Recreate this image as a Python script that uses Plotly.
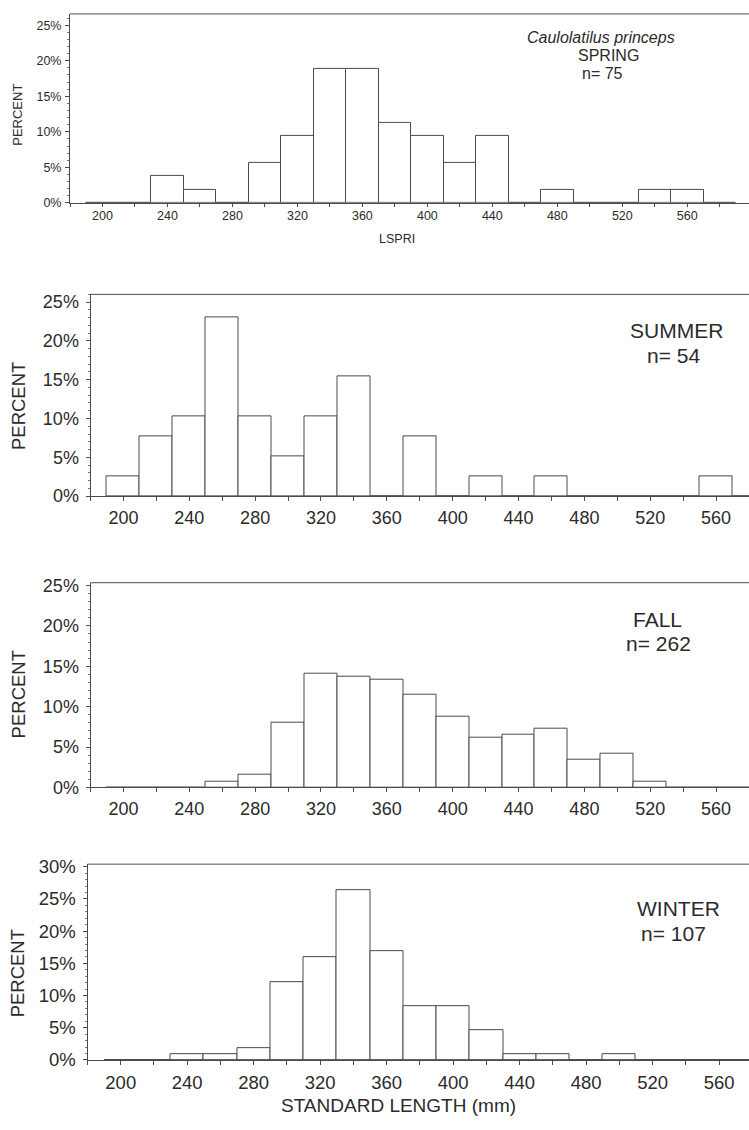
import plotly.graph_objects as go

W, H = 749, 1130

# Length-class centres (mm); each bar spans +/-10 mm
bin_centers = [200, 220, 240, 260, 280, 300, 320, 340, 360, 380,
               400, 420, 440, 460, 480, 500, 520, 540, 560, 580]

# Percent of fish in each length class, by season
spring_pct = [0, 0, 3.77, 1.89, 0, 5.66, 9.43, 18.87, 18.87, 11.32,
              9.43, 5.66, 9.43, 0, 1.89, 0, 0, 1.89, 1.89, 0]
summer_pct = [2.56, 7.69, 10.26, 23.08, 10.26, 5.13, 10.26, 15.38, 0, 7.69,
              0, 2.56, 0, 2.56, 0, 0, 0, 0, 2.56, 0]
fall_pct = [0, 0, 0, 0.76, 1.53, 8.02, 14.12, 13.74, 13.36, 11.45,
            8.78, 6.11, 6.49, 7.25, 3.44, 4.20, 0.76, 0, 0, 0]
winter_pct = [0, 0, 0.93, 0.93, 1.87, 12.15, 15.89, 26.4, 16.82, 8.41,
              8.41, 4.67, 0.93, 0.93, 0, 0.93, 0, 0, 0, 0]

x_tick_vals = [200, 240, 280, 320, 360, 400, 440, 480, 520, 560]
pct_ticks_25 = [0, 5, 10, 15, 20, 25]
pct_ticks_30 = [0, 5, 10, 15, 20, 25, 30]

INK = "#2b2b2b"
LINE = "#4a4a4a"
FONT = "Liberation Sans, Arial, sans-serif"


def px_x(p):
    return p / W


def px_y(p):
    return 1 - p / H


# panel boxes in pixels: left, top, bottom; axis ranges; font sizes
panels = [
    dict(vals=spring_pct, left=70, top=6, bottom=198, xr=[180, 598], yr=[0, 26.6],
         yticks=pct_ticks_25, tick_font=12.5, standoff=1, xstand=-2, xlen=3),
    dict(vals=summer_pct, left=90.5, top=291, bottom=496, xr=[180, 580], yr=[0, 26.0],
         yticks=pct_ticks_25, tick_font=18, standoff=3, xstand=1, xlen=4),
    dict(vals=fall_pct, left=90.5, top=584, bottom=792, xr=[180, 580], yr=[0, 25.35],
         yticks=pct_ticks_25, tick_font=18, standoff=3, xstand=1, xlen=4),
    dict(vals=winter_pct, left=87.5, top=870, bottom=1069, xr=[180, 578], yr=[0, 30.4],
         yticks=pct_ticks_30, tick_font=18.5, standoff=3, xstand=2, xlen=4),
]

fig = go.Figure()
layout = dict(
    width=W, height=H,
    margin=dict(l=0, r=0, t=0, b=0, pad=0),
    paper_bgcolor="white", plot_bgcolor="white",
    showlegend=False,
    font=dict(family=FONT, color=INK),
    bargap=0,
)
shapes = []

for i, p in enumerate(panels, start=1):
    xa = "x" if i == 1 else f"x{i}"
    ya = "y" if i == 1 else f"y{i}"
    fig.add_trace(go.Bar(
        x=bin_centers, y=p["vals"], width=20,
        marker=dict(color="white", line=dict(color=LINE, width=1)),
        xaxis=xa, yaxis=ya, hoverinfo="skip",
    ))
    fs = p["tick_font"]
    xkey = "xaxis" if i == 1 else f"xaxis{i}"
    ykey = "yaxis" if i == 1 else f"yaxis{i}"
    layout[xkey] = dict(
        domain=[px_x(p["left"]), 1.0],
        anchor=ya, range=p["xr"],
        tickmode="array", tickvals=x_tick_vals,
        ticktext=[str(v) for v in x_tick_vals],
        ticks="outside", ticklen=p["xlen"], tickwidth=1, tickcolor=LINE,
        minor=dict(dtick=20, tick0=180, ticks="outside", ticklen=p["xlen"], tickcolor=LINE),
        showline=True, linecolor=LINE, linewidth=1, mirror=False,
        showgrid=False, zeroline=False,
        tickfont=dict(size=fs, color=INK, family=FONT),
        ticklabelstandoff=p["xstand"],
        fixedrange=True,
    )
    layout[ykey] = dict(
        domain=[px_y(p["bottom"]), px_y(p["top"])],
        anchor=xa, range=p["yr"],
        tickmode="array", tickvals=p["yticks"],
        ticktext=[f"{v}%" for v in p["yticks"]],
        ticks="outside", ticklen=4, tickwidth=1, tickcolor=LINE,
        minor=dict(dtick=1, ticks="outside", ticklen=2, tickcolor="#777777"),
        showline=True, linecolor=LINE, linewidth=1, mirror=False,
        showgrid=False, zeroline=False,
        tickfont=dict(size=fs, color=INK, family=FONT),
        ticklabelstandoff=p["standoff"],
        fixedrange=True,
    )
    # upper border of the frame
    shapes.append(dict(
        type="line", xref=f"{xa} domain", yref=f"{ya} domain",
        x0=0, x1=1, y0=1, y1=1, line=dict(color=LINE, width=1),
    ))

layout["shapes"] = shapes

annotations = []


def note(text, x, y, size, angle=0, italic=False):
    if italic:
        text = f"<i>{text}</i>"
    annotations.append(dict(
        text=text, x=px_x(x), y=px_y(y), xref="paper", yref="paper",
        xanchor="center", yanchor="middle", showarrow=False, textangle=angle,
        font=dict(size=size, color=INK, family=FONT),
    ))


# y-axis titles
note("PERCENT", 17.5, 109, 13, angle=-90)
note("PERCENT", 18.5, 405, 18.5, angle=-90)
note("PERCENT", 18.5, 698, 18.5, angle=-90)
note("PERCENT", 17, 981, 18.5, angle=-90)

# x-axis titles
note("LSPRI", 397, 235, 12.5)
note("STANDARD LENGTH (mm)", 399, 1115, 19)

# species and season labels
note("Caulolatilus princeps", 601, 29.5, 16, italic=True)
note("SPRING", 608, 48.5, 16)
note("n= 75", 602, 67, 16)

note("SUMMER", 676, 328, 21)
note("n= 54", 673, 353.5, 21)

note("FALL", 657, 621, 21)
note("n= 262", 658, 646, 21)

note("WINTER", 678, 915, 21)
note("n= 107", 673, 940, 21)

layout["annotations"] = annotations
fig.update_layout(**layout)

fig.write_html("out.html")
